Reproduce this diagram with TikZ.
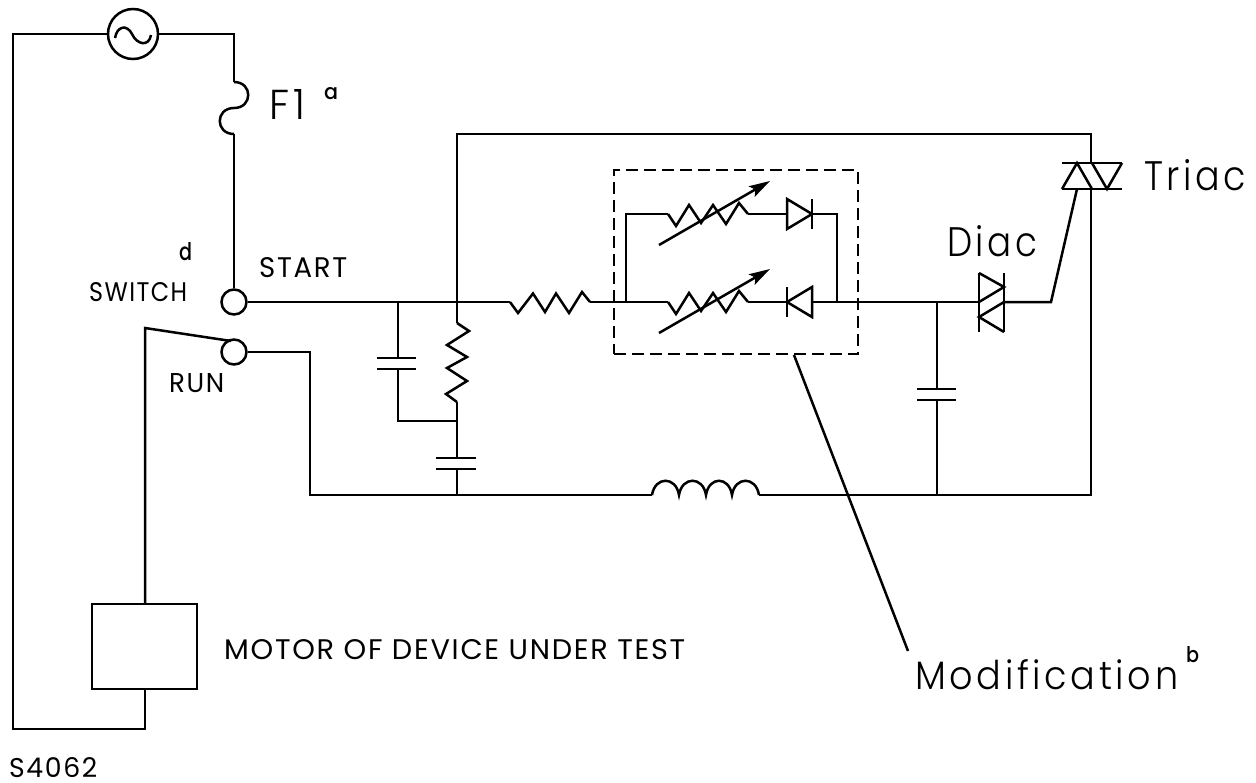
\documentclass[tikz,border=0pt]{standalone}
\usepackage{graphicx}
\usepackage{fontspec}
\setmainfont{Poppins}[UprightFont=* Light]
\newfontfamily\medfont{Poppins}[UprightFont=* Medium]
\newfontfamily\spacedfont{Poppins}[UprightFont=* Light,LetterSpace=10]
\newfontfamily\capsfont{Poppins}[LetterSpace=6]
\usetikzlibrary{arrows.meta,calc}
\newcommand{\lab}[3]{\resizebox{#1pt}{#2pt}{#3}}
\tikzset{
  wire/.style={line width=2.5pt,line join=miter},
  contact/.style={circle,draw,line width=2.5pt,minimum size=25pt,inner sep=0pt,fill=white},
  txt/.style={inner sep=0pt,anchor=base west},
  adj/.style={line width=2.5pt,-{Stealth[length=21pt,width=12pt,inset=4pt]}}
}
\begin{document}
\begin{tikzpicture}[x=1pt,y=-1pt]
\useasboundingbox (0,0) rectangle (1256,782);
% components
\node[contact,minimum size=50pt,fill=none] (ac) at (133,34) {};
\node[contact] (start) at (234,302) {};
\node[contact] (run) at (234,352) {};
\node[draw,line width=2.5pt,minimum width=105pt,minimum height=85pt,inner sep=0pt] (motor) at (144.5,646.5) {};
\node[draw,line width=2.2pt,dash pattern=on 12pt off 6pt,minimum width=244pt,minimum height=184pt,inner sep=0pt] (modbox) at (736,262) {};
% named points
\coordinate (tl) at (13,34);
\coordinate (bl) at (13,729);
\coordinate (bm) at (145,729);
\coordinate (mt) at (145,604);
\coordinate (mb) at (145,689);
\coordinate (arm) at (145,328);
\coordinate (armend) at (231,341);
\coordinate (tr) at (234,34);
\coordinate (fa) at (234,82);
\coordinate (fm) at (234,108);
\coordinate (fb) at (234,134);
\coordinate (j1) at (398,302);
\coordinate (j2) at (457,302);
\coordinate (j3) at (457,134);
\coordinate (r1a) at (510,302);
\coordinate (r1b) at (590,302);
\coordinate (la) at (626,302);
\coordinate (lt) at (626,214);
\coordinate (r2a) at (668,214);
\coordinate (r2b) at (748,214);
\coordinate (r3a) at (668,302);
\coordinate (r3b) at (748,302);
\coordinate (d1a) at (787,214);
\coordinate (d1b) at (812,214);
\coordinate (d2a) at (787,302);
\coordinate (d2b) at (812,302);
\coordinate (rt) at (837,214);
\coordinate (rb) at (837,302);
\coordinate (j4) at (937,302);
\coordinate (dia) at (979,302);
\coordinate (dib) at (1004,302);
\coordinate (gk) at (1051,302);
\coordinate (gt) at (1077,189);
\coordinate (mt1) at (1091,163);
\coordinate (mt2) at (1091,189);
\coordinate (trt) at (1091,134);
\coordinate (trb) at (1091,495);
\coordinate (i1) at (652,495);
\coordinate (i2) at (759,495);
\coordinate (j5) at (937,495);
\coordinate (j6) at (457,495);
\coordinate (rr) at (310,352);
\coordinate (rd) at (310,495);
\coordinate (c1t) at (398,358);
\coordinate (c1b) at (398,369);
\coordinate (k) at (398,421);
\coordinate (j7) at (457,421);
\coordinate (r4a) at (457,323);
\coordinate (r4b) at (457,402);
\coordinate (c2t) at (457,458);
\coordinate (c2b) at (457,469);
\coordinate (c3t) at (937,389);
\coordinate (c3b) at (937,400);
\coordinate (ls) at (794,355);
\coordinate (le) at (908,651);
% wires
\draw[wire] (ac.west) -- (tl) -- (bl) -- (bm) -- (mb);
\draw[wire] (mt) -- (arm) -- (armend);
\draw[wire] (ac.east) -- (tr) -- (fa);
\draw[wire] (fa) .. controls (253,82) and (253,108) .. (fm) .. controls (215,108) and (215,134) .. (fb);
\draw[wire] (fb) -- (start.north);
\draw[wire] (start.east) -- (r1a);
\draw[wire] (r1b) -- (la) -- (r3a);
\draw[wire] (la) -- (lt) -- (r2a);
\draw[wire] (r2b) -- (d1a);
\draw[wire] (d1b) -- (rt) -- (rb);
\draw[wire] (r3b) -- (d2a);
\draw[wire] (d2b) -- (dia);
\draw[wire] (dib) -- (gk) -- (gt);
\draw[wire] (j2) -- (j3) -- (trt) -- (mt1);
\draw[wire] (mt2) -- (trb) -- (i2);
\draw[wire] (i1) -- (rd) -- (rr) -- (run.east);
\draw[wire] (j1) -- (c1t);
\draw[wire] (c1b) -- (k) -- (j7);
\draw[wire] (j2) -- (r4a);
\draw[wire] (r4b) -- (c2t);
\draw[wire] (c2b) -- (j6);
\draw[wire] (j4) -- (c3t);
\draw[wire] (c3b) -- (j5);
\draw[wire] (ls) -- (le);
% AC sine
\draw[wire] (115,38) .. controls (117,26) and (127,24) .. (132,34) .. controls (137,45) and (149,47) .. (151,35);
% horizontal resistor
\draw[wire] (r1a) -- (518,313) -- (533,293.5) -- (545,312) -- (556,293.5) -- (569,313) -- (582,292) -- (r1b);
% vertical resistor
\draw[wire] (r4a) -- (469,331) -- (447,345) -- (467,357) -- (447,368) -- (467,381) -- (446,394) -- (r4b);
% adjustable resistors
\draw[wire] (r2a) -- (676,226) -- (689,205) -- (701,223) -- (713,205) -- (726,224) -- (739,203) -- (r2b);
\draw[wire] (r3a) -- (676,314) -- (689,293) -- (701,311) -- (713,293) -- (726,312) -- (739,291) -- (r3b);
\draw[adj] (659,245) -- (770,181);
\draw[adj] (659,333) -- (770,269);
% diodes
\draw[wire] (d1a) -- (787,199) -- (d1b) -- (787,229) -- cycle;
\draw[wire] (812,199) -- (812,229);
\draw[wire] (d2a) -- (812,287) -- (812,317) -- cycle;
\draw[wire] (787,287) -- (787,317);
% capacitors
\draw[wire] (377,358) -- (416,358) (377,369) -- (416,369);
\draw[wire] (436,458) -- (476,458) (436,469) -- (476,469);
\draw[wire] (917,389) -- (956,389) (917,400) -- (956,400);
% inductor
\draw[wire] (i1) .. controls (655,476) and (676,476) .. (679,495)
  .. controls (682,476) and (703,476) .. (706,495)
  .. controls (709,476) and (729,476) .. (732,495)
  .. controls (735,476) and (756,476) .. (i2);
% diac
\draw[wire] (979,273) -- (979,332) (1004,273) -- (1004,332);
\draw[wire] (979,273) -- (1004,287) -- (979,302) (1004,302) -- (979,317) -- (1004,332);
% triac
\draw[wire] (1062,163) -- (1122,163) (1062,189) -- (1122,189);
\draw[wire] (1062,189) -- (1077,163) -- (1092,189);
\draw[wire] (1092,163) -- (1107,189) -- (1122,163);
% labels
\node[txt] (lf) at (269,119) {\lab{36}{30}{\spacedfont F1}};
\node[txt] (la2) at (324,99) {\lab{14}{12}{\medfont a}};
\node[txt] (ld) at (179,260) {\lab{13}{18}{\medfont d}};
\node[txt] (lsw) at (89,301) {\lab{98}{19}{\capsfont SWITCH}};
\node[txt] (lst) at (259,277) {\lab{88}{20}{\capsfont START}};
\node[txt] (lru) at (169,392) {\lab{55}{19}{\capsfont RUN}};
\node[txt] (lmo) at (224,659) {\lab{461}{20}{\capsfont MOTOR OF DEVICE UNDER TEST}};
\node[txt] (lsn) at (9,777) {\lab{88}{20}{\capsfont S4062}};
\node[txt] (lmd) at (915,689) {\lab{263}{30}{\spacedfont Modification}};
\node[txt] (lb) at (1186,662.5) {\lab{13}{16}{\medfont b}};
\node[txt] (ltr) at (1144,190) {\lab{102}{31}{\spacedfont Triac}};
\node[txt] (ldi) at (947,256) {\lab{90}{31}{\spacedfont Diac}};
\end{tikzpicture}
\end{document}
